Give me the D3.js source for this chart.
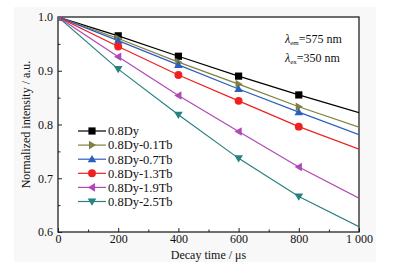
<!doctype html>
<meta charset="utf-8">
<style>
body { margin: 0; background: #fff; }
text { font-family: "Liberation Serif", "Times New Roman", serif; fill: #111; }
</style>
<svg id="chart" width="401" height="268"></svg>
<script src="https://d3js.org/d3.v7.min.js"></script>
<script>
const times = [0, 200, 400, 600, 800, 1000];
const seriesNames = ["0.8Dy", "0.8Dy-0.1Tb", "0.8Dy-0.7Tb", "0.8Dy-1.3Tb", "0.8Dy-1.9Tb", "0.8Dy-2.5Tb"];
const dy      = [1.0, 0.965, 0.927, 0.890, 0.855, 0.822];
const tb01    = [1.0, 0.960, 0.916, 0.875, 0.833, 0.795];
const tb07    = [1.0, 0.956, 0.911, 0.866, 0.823, 0.781];
const tb13    = [1.0, 0.945, 0.892, 0.844, 0.796, 0.754];
const tb19    = [1.0, 0.926, 0.854, 0.787, 0.721, 0.663];
const tb25    = [1.0, 0.903, 0.818, 0.737, 0.666, 0.610];
const colors  = ["#000000", "#808040", "#2a5fbf", "#f02020", "#b048b8", "#2a8080"];
const symbols = ["square", "right", "up", "circle", "left", "down"];
const xTicks = [0, 200, 400, 600, 800, 1000];
const xTickLabels = ["0", "200", "400", "600", "800", "1 000"];
const yTicks = [0.6, 0.7, 0.8, 0.9, 1.0];

const allSeries = [dy, tb01, tb07, tb13, tb19, tb25];

const svg = d3.select("#chart");
const margin = {left: 58, top: 17, right: 42, bottom: 36};
const W = 401, H = 268;

svg.append("rect").attr("x", 14).attr("y", 7).attr("width", 362).attr("height", 255)
  .attr("fill", "#f8f8f8");

const x = d3.scaleLinear().domain([0, 1000]).range([margin.left, W - margin.right]);
const y = d3.scaleLinear().domain([0.6, 1.0]).range([H - margin.bottom, margin.top]);

svg.append("rect")
  .attr("x", x(0)).attr("y", y(1)).attr("width", x(1000) - x(0)).attr("height", y(0.6) - y(1))
  .attr("fill", "#fff");

svg.append("clipPath").attr("id", "clip").append("rect")
  .attr("x", x(0)).attr("y", y(1)).attr("width", x(1000) - x(0)).attr("height", y(0.6) - y(1));

// axes
const xAxis = d3.axisBottom(x).tickValues(xTicks).tickSize(-4).tickPadding(2)
  .tickFormat((d, i) => xTickLabels[i]);
const gx = svg.append("g").attr("transform", `translate(0,${y(0.6)})`).call(xAxis);
const yAxis = d3.axisLeft(y).tickValues(yTicks).tickSize(-4).tickPadding(5).tickFormat(d3.format(".1f"));
const gy = svg.append("g").attr("transform", `translate(${x(0)},0)`).call(yAxis);

// minor ticks
const gxm = svg.append("g").attr("transform", `translate(0,${y(0.6)})`)
  .call(d3.axisBottom(x).tickValues([100, 300, 500, 700, 900]).tickSize(-2.5).tickFormat(""));
const gym = svg.append("g").attr("transform", `translate(${x(0)},0)`)
  .call(d3.axisLeft(y).tickValues([0.65, 0.75, 0.85, 0.95]).tickSize(-2.5).tickFormat(""));

[gx, gy, gxm, gym].forEach(g => {
  g.select(".domain").remove();
  g.selectAll("line").attr("stroke", "#222");
  g.selectAll("text").attr("font-size", 12).attr("font-family", "Liberation Serif").attr("fill", "#111");
});

// frame
svg.append("rect")
  .attr("x", x(0)).attr("y", y(1)).attr("width", x(1000) - x(0)).attr("height", y(0.6) - y(1))
  .attr("fill", "none").attr("stroke", "#222").attr("stroke-width", 1.3);

function markerPath(type, s) {
  if (type === "square") return `M${-s},${-s}h${2*s}v${2*s}h${-2*s}Z`;
  if (type === "circle") return d3.symbol(d3.symbolCircle, Math.PI * s * s * 1.2)();
  if (type === "up") return `M0,${-s*1.15}L${s*1.2},${s*0.85}L${-s*1.2},${s*0.85}Z`;
  if (type === "down") return `M0,${s*1.15}L${s*1.2},${-s*0.85}L${-s*1.2},${-s*0.85}Z`;
  if (type === "right") return `M${s*1.15},0L${-s*0.85},${s*1.2}L${-s*0.85},${-s*1.2}Z`;
  if (type === "left") return `M${-s*1.15},0L${s*0.85},${s*1.2}L${s*0.85},${-s*1.2}Z`;
}

const line = d3.line().x((d, i) => x(times[i])).y(d => y(d));
const plot = svg.append("g").attr("clip-path", "url(#clip)");

allSeries.forEach((vals, k) => {
  plot.append("path").datum(vals).attr("d", line)
    .attr("fill", "none").attr("stroke", colors[k]).attr("stroke-width", 1.2);
});
allSeries.forEach((vals, k) => {
  plot.selectAll(null).data(vals.slice(0, 5)).enter().append("path")
    .attr("transform", (d, i) => `translate(${x(times[i])},${y(d)})`)
    .attr("d", markerPath(symbols[k], 3.6))
    .attr("fill", colors[k]);
});

// legend
const leg = svg.append("g").attr("transform", "translate(78,131)");
seriesNames.forEach((name, k) => {
  const g = leg.append("g").attr("transform", `translate(0,${k * 14.1})`);
  g.append("line").attr("x1", 0).attr("x2", 28).attr("stroke", colors[k]).attr("stroke-width", 1.2);
  g.append("path").attr("transform", "translate(14,0)").attr("d", markerPath(symbols[k], 3.6)).attr("fill", colors[k]);
  g.append("text").attr("x", 30).attr("y", 4.3).attr("font-size", 12.5).text(name);
});

// annotation
const ann = svg.append("g").attr("font-size", 12);
const t1 = ann.append("text").attr("x", 285).attr("y", 43);
t1.append("tspan").attr("font-style", "italic").text("λ");
t1.append("tspan").attr("font-size", 7).attr("dy", 2).text("em");
t1.append("tspan").attr("dy", -2).text("=575 nm");
const t2 = ann.append("text").attr("x", 285).attr("y", 62);
t2.append("tspan").attr("font-style", "italic").text("λ");
t2.append("tspan").attr("font-size", 7).attr("dy", 2).text("ex");
t2.append("tspan").attr("dy", -2).text("=350 nm");

// axis titles
svg.append("text").attr("x", (x(0) + x(1000)) / 2).attr("y", 259)
  .attr("text-anchor", "middle").attr("font-size", 12).text("Decay time / μs");
svg.append("text").attr("transform", `translate(30,${(y(0.6) + y(1)) / 2}) rotate(-90)`)
  .attr("text-anchor", "middle").attr("font-size", 12).text("Normalized intensity / a.u.");
</script>
